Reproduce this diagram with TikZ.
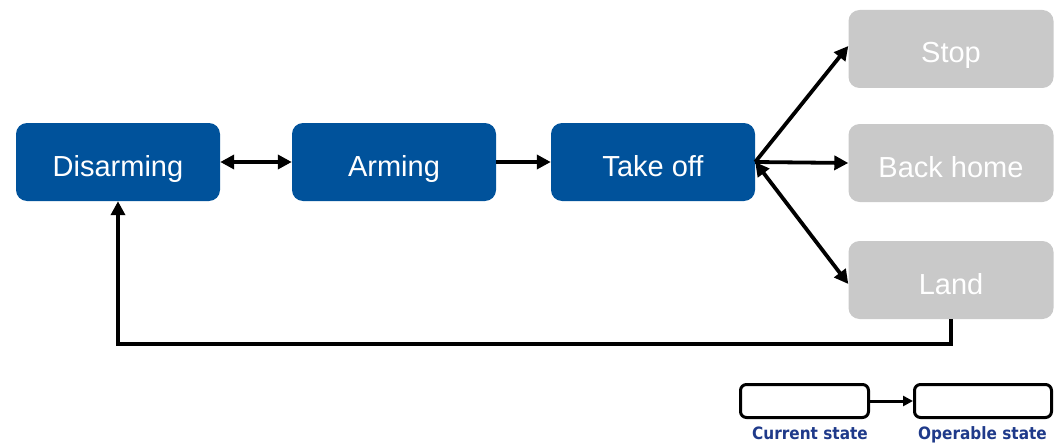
\documentclass[tikz,border=0pt]{standalone}
\usepackage{fontspec}
\setmainfont{Liberation Sans}
\newfontfamily\legendfont{DejaVu Sans}
\usetikzlibrary{arrows.meta}
\definecolor{stateblue}{HTML}{00529B}
\definecolor{stategray}{HTML}{C9C9C9}
\definecolor{legendblue}{HTML}{1F3A8A}
\newcommand{\legendtext}[1]{\scalebox{0.9}[1]{#1}}
\tikzset{
  activebox/.style={fill=stateblue, text=white, rounded corners=11pt, minimum width=204pt, minimum height=78pt, inner sep=0pt, text height=30pt, text depth=2pt, font=\fontsize{29}{34}\selectfont},
  optbox/.style={fill=stategray, text=white, rounded corners=11pt, minimum width=205pt, minimum height=78pt, inner sep=0pt, text height=30pt, text depth=2pt, font=\fontsize{29}{34}\selectfont},
  legendbox/.style={draw=black, fill=white, line width=3pt, rounded corners=6pt, minimum height=33pt, inner sep=0pt},
  legendlabel/.style={text=legendblue, font=\legendfont\bfseries\fontsize{17}{20}\selectfont, inner sep=0pt},
  conn/.style={line width=3.8pt, -{Triangle[length=14pt,width=14pt]}},
  dconn/.style={line width=3.8pt, {Triangle[length=14pt,width=14pt]}-{Triangle[length=14pt,width=14pt]}}
}
\begin{document}
\begin{tikzpicture}[x=1pt,y=-1pt]
\useasboundingbox (0,0) rectangle (1061,444);
\node[activebox] (dis) at (118,162) {Disarming};
\node[activebox] (arm) at (394,162) {Arming};
\node[activebox] (tko) at (653,162) {Take off};
\node[optbox] (stop) at (951,49) {Stop};
\node[optbox] (back) at (951,163) {Back home};
\node[optbox] (land) at (951,280) {Land};
\coordinate (loopy) at (0,344);
\draw[dconn] (dis.east) -- (arm.west);
\draw[conn] (arm.east) -- (tko.west);
\draw[conn] (tko.east) -- ([yshift=3pt]stop.west);
\draw[conn] (tko.east) -- (back.west);
\draw[dconn] (tko.east) -- ([yshift=-4pt]land.west);
\draw[conn] (land.south) -- (land.south |- loopy) -| (dis.south);
\node[legendbox, minimum width=128pt] (cur) at (804.5,401) {};
\node[legendbox, minimum width=137pt] (opr) at (983,401) {};
\draw[line width=3pt, -{Triangle[length=10pt,width=10pt]}] (cur.east) -- (opr.west);
\node[legendlabel, anchor=north] (curl) at (810,427) {\legendtext{Current state}};
\node[legendlabel, anchor=north] (oprl) at (982.5,426) {\legendtext{Operable state}};
\end{tikzpicture}
\end{document}
